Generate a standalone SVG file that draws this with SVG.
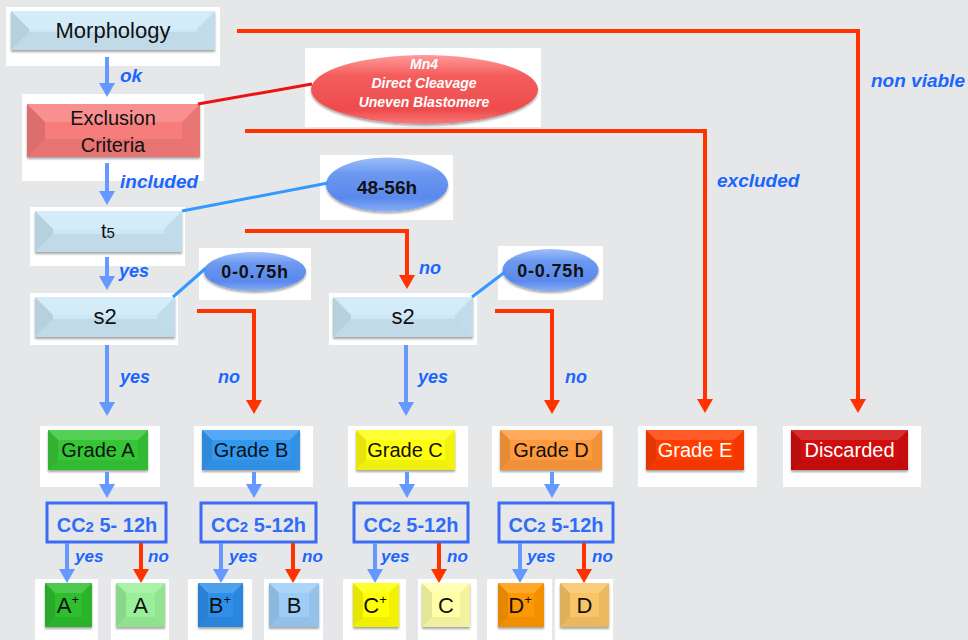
<svg xmlns="http://www.w3.org/2000/svg" width="968" height="640" viewBox="0 0 968 640">
<style>
.panel{fill:#ffffff}
.t{font-family:"Liberation Sans",Arial,sans-serif;fill:#111;text-anchor:middle}
.tw{font-family:"Liberation Sans",Arial,sans-serif;fill:#fff;text-anchor:middle}
.ft{fill:#fff;opacity:.16}
.fb{fill:#000;opacity:.06}
.fl{fill:#000;opacity:.1}
.fr{fill:#000;opacity:.05}
.lbl{font-family:"Liberation Sans",Arial,sans-serif;font-weight:bold;font-style:italic;fill:#1A66FF}
.ell{font-family:"Liberation Sans",Arial,sans-serif;font-weight:bold;fill:#111;text-anchor:middle}
.cc{fill:none;stroke:#3B6CF3;stroke-width:3}
.cct{font-family:"Liberation Sans",Arial,sans-serif;font-weight:bold;font-size:20px;fill:#2F6CF7;text-anchor:middle}
.ba{fill:none;stroke:#6699FF;stroke-width:4;marker-end:url(#ab)}
.ra{fill:none;stroke:#FF3300;stroke-width:4;marker-end:url(#ar)}
.bl2{stroke:#3399FF;stroke-width:3;fill:none}
.rl2{stroke:#EE1111;stroke-width:3;fill:none}
</style>
<defs>
<marker id="ab" markerUnits="userSpaceOnUse" markerWidth="14" markerHeight="16" refX="0" refY="8" orient="auto"><path d="M0,0 L14,8 L0,16 z" fill="#6699FF"/></marker>
<marker id="ar" markerUnits="userSpaceOnUse" markerWidth="14" markerHeight="16" refX="0" refY="8" orient="auto"><path d="M0,0 L14,8 L0,16 z" fill="#FF3300"/></marker>
<filter id="sh" x="-10%" y="-10%" width="120%" height="140%"><feDropShadow dx="0" dy="2" stdDeviation="1.3" flood-color="#000" flood-opacity="0.35"/></filter>
<linearGradient id="gblue" x1="0" y1="0" x2="0" y2="1"><stop offset="0" stop-color="#9DBEFA"/><stop offset="0.3" stop-color="#6B98F0"/><stop offset="0.75" stop-color="#5A89EC"/><stop offset="1" stop-color="#86ADF6"/></linearGradient>
<linearGradient id="gred" x1="0" y1="0" x2="0" y2="1"><stop offset="0" stop-color="#FF9A9A"/><stop offset="0.3" stop-color="#F45C5C"/><stop offset="0.8" stop-color="#EE4C4C"/><stop offset="1" stop-color="#F77A7A"/></linearGradient>
</defs>
<rect x="0" y="0" width="968" height="640" fill="#E6E7E9"/>

<g id="morphology">
<rect class="panel" x="6" y="7" width="214" height="59"/>
<g filter="url(#sh)"><rect x="11" y="11" width="204" height="39" fill="#CCE8F7"/>
<polygon class="ft" points="11,11 215,11 197,29 29,29"/><polygon class="fb" points="11,50 215,50 197,32 29,32"/><polygon class="fl" points="11,11 29,29 29,32 11,50"/><polygon class="fr" points="215,11 197,29 197,32 215,50"/></g>
<text class="t" x="113" y="38" font-size="22">Morphology</text>
</g>

<g id="exclusion">
<rect class="panel" x="22" y="94" width="182" height="87"/>
<g filter="url(#sh)"><rect x="27" y="104" width="173" height="53" fill="#F77B7B"/>
<polygon class="ft" points="27,104 200,104 182,122 45,122"/><polygon class="fb" points="27,157 200,157 182,139 45,139"/><polygon class="fl" points="27,104 45,122 45,139 27,157"/><polygon class="fr" points="200,104 182,122 182,139 200,157"/></g>
<text class="t" x="113" y="125" font-size="20">Exclusion</text>
<text class="t" x="113" y="152" font-size="20">Criteria</text>
</g>

<g id="mn4">
<rect class="panel" x="305" y="48" width="236" height="79"/>
<ellipse cx="424.5" cy="89.5" rx="113.5" ry="34.5" fill="url(#gred)" filter="url(#sh)"/>
<text class="tw" x="424" y="69" font-size="14" font-weight="bold" font-style="italic">Mn4</text>
<text class="tw" x="424" y="88" font-size="14" font-weight="bold" font-style="italic">Direct Cleavage</text>
<text class="tw" x="424" y="107" font-size="14" font-weight="bold" font-style="italic">Uneven Blastomere</text>
</g>

<g id="t5">
<rect class="panel" x="30" y="207" width="155" height="59"/>
<g filter="url(#sh)"><rect x="35" y="211" width="147" height="41" fill="#CCE8F7"/>
<polygon class="ft" points="35,211 182,211 164,229 53,229"/><polygon class="fb" points="35,252 182,252 164,234 53,234"/><polygon class="fl" points="35,211 53,229 53,234 35,252"/><polygon class="fr" points="182,211 164,229 164,234 182,252"/></g>
<text class="t" x="108" y="238" font-size="20">t<tspan font-size="15">5</tspan></text>
</g>

<g id="t48">
<rect class="panel" x="320" y="155" width="133" height="65"/>
<ellipse cx="387" cy="184.5" rx="61" ry="27" fill="url(#gblue)" filter="url(#sh)"/>
<text class="ell" x="387" y="194" font-size="19">48-56h</text>
</g>

<g id="s2a">
<rect class="panel" x="30" y="293" width="148" height="52"/>
<g filter="url(#sh)"><rect x="35" y="297" width="140" height="40" fill="#CCE8F7"/>
<polygon class="ft" points="35,297 175,297 157,315 53,315"/><polygon class="fb" points="35,337 175,337 157,319 53,319"/><polygon class="fl" points="35,297 53,315 53,319 35,337"/><polygon class="fr" points="175,297 157,315 157,319 175,337"/></g>
<text class="t" x="105" y="324" font-size="22">s2</text>
</g>

<g id="t075a">
<rect class="panel" x="199" y="248" width="112" height="52"/>
<ellipse cx="255" cy="271.5" rx="51" ry="19.5" fill="url(#gblue)" filter="url(#sh)"/>
<text class="ell" x="255" y="278" font-size="18" letter-spacing="0.8">0-0.75h</text>
</g>

<g id="s2b">
<rect class="panel" x="329" y="293" width="148" height="52"/>
<g filter="url(#sh)"><rect x="333" y="297" width="140" height="40" fill="#CCE8F7"/>
<polygon class="ft" points="333,297 473,297 455,315 351,315"/><polygon class="fb" points="333,337 473,337 455,319 351,319"/><polygon class="fl" points="333,297 351,315 351,319 333,337"/><polygon class="fr" points="473,297 455,315 455,319 473,337"/></g>
<text class="t" x="403" y="324" font-size="22">s2</text>
</g>

<g id="t075b">
<rect class="panel" x="498" y="246" width="105" height="54"/>
<ellipse cx="550.5" cy="270" rx="48" ry="21" fill="url(#gblue)" filter="url(#sh)"/>
<text class="ell" x="551" y="277" font-size="18" letter-spacing="0.8">0-0.75h</text>
</g>

<g id="gradeA">
<rect class="panel" x="40" y="426" width="120" height="61"/>
<g filter="url(#sh)"><rect x="48" y="430" width="100" height="40" fill="#36C636"/>
<polygon class="ft" points="48,430 148,430 138,440 58,440"/><polygon class="fb" points="48,470 148,470 138,460 58,460"/><polygon class="fl" points="48,430 58,440 58,460 48,470"/><polygon class="fr" points="148,430 138,440 138,460 148,470"/></g>
<text class="t" x="98" y="457" font-size="20">Grade A</text>
</g>

<g id="gradeB">
<rect class="panel" x="194" y="426" width="119" height="61"/>
<g filter="url(#sh)"><rect x="202" y="430" width="98" height="40" fill="#3399F2"/>
<polygon class="ft" points="202,430 300,430 290,440 212,440"/><polygon class="fb" points="202,470 300,470 290,460 212,460"/><polygon class="fl" points="202,430 212,440 212,460 202,470"/><polygon class="fr" points="300,430 290,440 290,460 300,470"/></g>
<text class="t" x="251" y="457" font-size="20">Grade B</text>
</g>

<g id="gradeC">
<rect class="panel" x="348" y="426" width="120" height="61"/>
<g filter="url(#sh)"><rect x="356" y="430" width="99" height="40" fill="#FFFF10"/>
<polygon class="ft" points="356,430 455,430 445,440 366,440"/><polygon class="fb" points="356,470 455,470 445,460 366,460"/><polygon class="fl" points="356,430 366,440 366,460 356,470"/><polygon class="fr" points="455,430 445,440 445,460 455,470"/></g>
<text class="t" x="405" y="457" font-size="20">Grade C</text>
</g>

<g id="gradeD">
<rect class="panel" x="492" y="426" width="121" height="61"/>
<g filter="url(#sh)"><rect x="500" y="430" width="102" height="40" fill="#FF9A3C"/>
<polygon class="ft" points="500,430 602,430 592,440 510,440"/><polygon class="fb" points="500,470 602,470 592,460 510,460"/><polygon class="fl" points="500,430 510,440 510,460 500,470"/><polygon class="fr" points="602,430 592,440 592,460 602,470"/></g>
<text class="t" x="551" y="457" font-size="20">Grade D</text>
</g>

<g id="gradeE">
<rect class="panel" x="638" y="426" width="119" height="61"/>
<g filter="url(#sh)"><rect x="646" y="430" width="98" height="40" fill="#FF3D00"/>
<polygon class="ft" points="646,430 744,430 734,440 656,440"/><polygon class="fb" points="646,470 744,470 734,460 656,460"/><polygon class="fl" points="646,430 656,440 656,460 646,470"/><polygon class="fr" points="744,430 734,440 734,460 744,470"/></g>
<text class="tw" x="695" y="457" font-size="20">Grade E</text>
</g>

<g id="discarded">
<rect class="panel" x="783" y="426" width="138" height="61"/>
<g filter="url(#sh)"><rect x="791" y="430" width="117" height="40" fill="#D00808"/>
<polygon class="ft" points="791,430 908,430 898,440 801,440"/><polygon class="fb" points="791,470 908,470 898,460 801,460"/><polygon class="fl" points="791,430 801,440 801,460 791,470"/><polygon class="fr" points="908,430 898,440 898,460 908,470"/></g>
<text class="tw" x="849.5" y="457" font-size="20">Discarded</text>
</g>

<g id="ccA"><rect class="cc" x="47" y="503" width="119" height="39"/><text class="cct" x="107" y="532">CC<tspan font-size="15">2</tspan> 5- 12h</text></g>
<g id="ccB"><rect class="cc" x="201" y="503" width="115" height="39"/><text class="cct" x="258.5" y="532">CC<tspan font-size="15">2</tspan> 5-12h</text></g>
<g id="ccC"><rect class="cc" x="354" y="503" width="114" height="39"/><text class="cct" x="411" y="532">CC<tspan font-size="15">2</tspan> 5-12h</text></g>
<g id="ccD"><rect class="cc" x="499" y="503" width="114" height="39"/><text class="cct" x="556" y="532">CC<tspan font-size="15">2</tspan> 5-12h</text></g>

<g id="Aplus">
<rect class="panel" x="35" y="579" width="63" height="61"/>
<g filter="url(#sh)"><rect x="45" y="583" width="47" height="44" fill="#2EBE2E"/>
<polygon class="ft" points="45,583 92,583 82,593 55,593"/><polygon class="fb" points="45,627 92,627 82,617 55,617"/><polygon class="fl" points="45,583 55,593 55,617 45,627"/><polygon class="fr" points="92,583 82,593 82,617 92,627"/></g>
<text class="t" x="68" y="613" font-size="22">A<tspan font-size="13" dy="-9">+</tspan></text>
</g>
<g id="A">
<rect class="panel" x="111" y="579" width="58" height="61"/>
<g filter="url(#sh)"><rect x="116" y="583" width="49" height="44" fill="#9AF09A"/>
<polygon class="ft" points="116,583 165,583 155,593 126,593"/><polygon class="fb" points="116,627 165,627 155,617 126,617"/><polygon class="fl" points="116,583 126,593 126,617 116,627"/><polygon class="fr" points="165,583 155,593 155,617 165,627"/></g>
<text class="t" x="140.5" y="613" font-size="22">A</text>
</g>
<g id="Bplus">
<rect class="panel" x="188" y="579" width="64" height="61"/>
<g filter="url(#sh)"><rect x="198" y="583" width="45" height="44" fill="#2F8FEA"/>
<polygon class="ft" points="198,583 243,583 233,593 208,593"/><polygon class="fb" points="198,627 243,627 233,617 208,617"/><polygon class="fl" points="198,583 208,593 208,617 198,627"/><polygon class="fr" points="243,583 233,593 233,617 243,627"/></g>
<text class="t" x="220" y="613" font-size="22">B<tspan font-size="13" dy="-9">+</tspan></text>
</g>
<g id="B">
<rect class="panel" x="264" y="579" width="59" height="61"/>
<g filter="url(#sh)"><rect x="269" y="583" width="50" height="44" fill="#9DCDF6"/>
<polygon class="ft" points="269,583 319,583 309,593 279,593"/><polygon class="fb" points="269,627 319,627 309,617 279,617"/><polygon class="fl" points="269,583 279,593 279,617 269,627"/><polygon class="fr" points="319,583 309,593 309,617 319,627"/></g>
<text class="t" x="294" y="613" font-size="22">B</text>
</g>
<g id="Cplus">
<rect class="panel" x="343" y="579" width="63" height="61"/>
<g filter="url(#sh)"><rect x="353" y="583" width="46" height="44" fill="#FFFF00"/>
<polygon class="ft" points="353,583 399,583 389,593 363,593"/><polygon class="fb" points="353,627 399,627 389,617 363,617"/><polygon class="fl" points="353,583 363,593 363,617 353,627"/><polygon class="fr" points="399,583 389,593 389,617 399,627"/></g>
<text class="t" x="375" y="613" font-size="22">C<tspan font-size="13" dy="-9">+</tspan></text>
</g>
<g id="C">
<rect class="panel" x="418" y="579" width="59" height="61"/>
<g filter="url(#sh)"><rect x="422" y="583" width="48" height="44" fill="#FFFFA8"/>
<polygon class="ft" points="422,583 470,583 460,593 432,593"/><polygon class="fb" points="422,627 470,627 460,617 432,617"/><polygon class="fl" points="422,583 432,593 432,617 422,627"/><polygon class="fr" points="470,583 460,593 460,617 470,627"/></g>
<text class="t" x="446" y="613" font-size="22">C</text>
</g>
<g id="Dplus">
<rect class="panel" x="487" y="579" width="65" height="61"/>
<g filter="url(#sh)"><rect x="498" y="583" width="46" height="44" fill="#FF9800"/>
<polygon class="ft" points="498,583 544,583 534,593 508,593"/><polygon class="fb" points="498,627 544,627 534,617 508,617"/><polygon class="fl" points="498,583 508,593 508,617 498,627"/><polygon class="fr" points="544,583 534,593 534,617 544,627"/></g>
<text class="t" x="520" y="613" font-size="22">D<tspan font-size="13" dy="-9">+</tspan></text>
</g>
<g id="D">
<rect class="panel" x="555" y="579" width="58" height="61"/>
<g filter="url(#sh)"><rect x="560" y="583" width="49" height="44" fill="#F8C466"/>
<polygon class="ft" points="560,583 609,583 599,593 570,593"/><polygon class="fb" points="560,627 609,627 599,617 570,617"/><polygon class="fl" points="560,583 570,593 570,617 560,627"/><polygon class="fr" points="609,583 599,593 599,617 609,627"/></g>
<text class="t" x="584.5" y="613" font-size="22">D</text>
</g>

<g id="connectors">
<line class="ba" x1="107" y1="57" x2="107" y2="83"/>
<line class="ba" x1="107" y1="163" x2="107" y2="191"/>
<line class="ba" x1="107" y1="257" x2="107" y2="276"/>
<line class="ba" x1="107" y1="345" x2="107" y2="402"/>
<line class="ba" x1="406" y1="345" x2="406" y2="402"/>
<line class="ba" x1="107" y1="472" x2="107" y2="484"/>
<line class="ba" x1="254" y1="472" x2="254" y2="484"/>
<line class="ba" x1="407" y1="472" x2="407" y2="484"/>
<line class="ba" x1="552" y1="472" x2="552" y2="484"/>
<line class="ba" x1="67" y1="543" x2="67" y2="569"/>
<line class="ba" x1="221" y1="543" x2="221" y2="569"/>
<line class="ba" x1="375" y1="543" x2="375" y2="569"/>
<line class="ba" x1="520" y1="543" x2="520" y2="569"/>
<line class="ra" x1="141" y1="543" x2="141" y2="569"/>
<line class="ra" x1="293" y1="543" x2="293" y2="569"/>
<line class="ra" x1="439" y1="543" x2="439" y2="569"/>
<line class="ra" x1="584" y1="543" x2="584" y2="569"/>
<polyline class="ra" points="237,31 858,31 858,399"/>
<polyline class="ra" points="245,131 705,131 705,399"/>
<polyline class="ra" points="245,231 407,231 407,275"/>
<polyline class="ra" points="197,311 254,311 254,400"/>
<polyline class="ra" points="495,311 552,311 552,400"/>
<line class="rl2" x1="198" y1="104" x2="312" y2="84"/>
<line class="bl2" x1="182" y1="211" x2="328" y2="183"/>
<line class="bl2" x1="173" y1="297" x2="206" y2="268"/>
<line class="bl2" x1="472" y1="297" x2="505" y2="272"/>
<text class="lbl" x="120" y="82" font-size="19">ok</text>
<text class="lbl" x="120" y="188" font-size="19">included</text>
<text class="lbl" x="119" y="277" font-size="18">yes</text>
<text class="lbl" x="419" y="274" font-size="18">no</text>
<text class="lbl" x="120" y="383" font-size="18">yes</text>
<text class="lbl" x="218" y="383" font-size="18">no</text>
<text class="lbl" x="418" y="383" font-size="18">yes</text>
<text class="lbl" x="565" y="383" font-size="18">no</text>
<text class="lbl" x="717" y="187" font-size="19">excluded</text>
<text class="lbl" x="871" y="87" font-size="19">non viable</text>
<text class="lbl" x="75" y="562" font-size="17">yes</text>
<text class="lbl" x="148" y="562" font-size="17">no</text>
<text class="lbl" x="229" y="562" font-size="17">yes</text>
<text class="lbl" x="302" y="562" font-size="17">no</text>
<text class="lbl" x="381" y="562" font-size="17">yes</text>
<text class="lbl" x="447" y="562" font-size="17">no</text>
<text class="lbl" x="527" y="562" font-size="17">yes</text>
<text class="lbl" x="592" y="562" font-size="17">no</text>
</g>
</svg>
